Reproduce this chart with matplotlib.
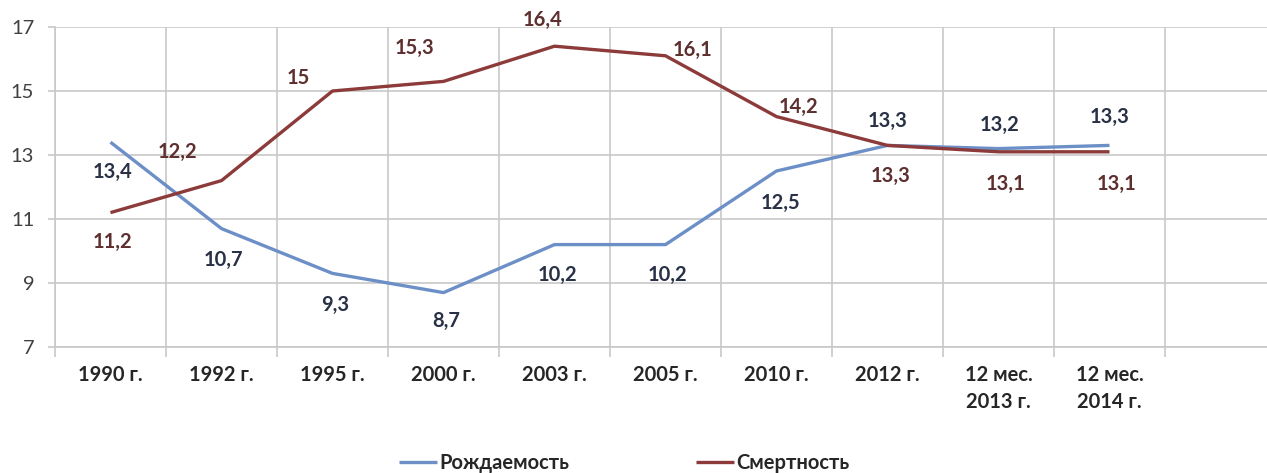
import numpy as np
import matplotlib
matplotlib.use("Agg")
import matplotlib.pyplot as plt
from matplotlib.ticker import FixedLocator

# Данные
kategorii = ['1990 г.', '1992 г.', '1995 г.', '2000 г.', '2003 г.', '2005 г.',
             '2010 г.', '2012 г.', '12 мес.\n2013 г.', '12 мес.\n2014 г.']
rozhdaemost = [13.4, 10.7, 9.3, 8.7, 10.2, 10.2, 12.5, 13.3, 13.2, 13.3]
smertnost = [11.2, 12.2, 15.0, 15.3, 16.4, 16.1, 14.2, 13.3, 13.1, 13.1]

# Сдвиги подписей (в пикселях) относительно точек
sdvig_rozhd = [(2, -30), (2, -31), (3, -32), (3, -28), (3, -30), (2, -30), (4, -32), (0, 24), (1, 24), (0, 28)]
sdvig_smert = [(2, -29), (-44, 29), (-34, 13), (-29, 33), (-12, 26), (27, 6), (22, 10), (3, -31), (7, -32), (7, -32)]

COR_AZUL = '#6d8fc7'
COR_VERM = '#8c3a3a'
TXT_AZUL = '#283145'
TXT_VERM = '#5e2f2f'
GRADE = '#c8c8c8'

plt.rcParams['font.family'] = ['Lato', 'DejaVu Sans']

fig = plt.figure(figsize=(12.67, 4.73), dpi=100)
ax = fig.add_axes([55 / 1267, 126 / 473, 1221 / 1267, 320 / 473])

x = np.arange(len(kategorii))
ax.plot(x, rozhdaemost, color=COR_AZUL, linewidth=2.4, label='Рождаемость', solid_capstyle='butt')
ax.plot(x, smertnost, color=COR_VERM, linewidth=2.4, label='Смертность', solid_capstyle='butt')

# Подписи значений
def fmt(v):
    return f'{v:g}'.replace('.', ',')

for xi, v, (dx, dy) in zip(x, rozhdaemost, sdvig_rozhd):
    ax.annotate(fmt(v), (xi, v), xytext=(dx * 0.72, dy * 0.72), textcoords='offset points',
                ha='center', va='center', fontsize=14.5, fontweight='bold', color=TXT_AZUL)
for xi, v, (dx, dy) in zip(x, smertnost, sdvig_smert):
    ax.annotate(fmt(v), (xi, v), xytext=(dx * 0.72, dy * 0.72), textcoords='offset points',
                ha='center', va='center', fontsize=14.5, fontweight='bold', color=TXT_VERM,
                annotation_clip=False)

# Оси
ax.set_xlim(-0.5, len(kategorii) + 0.5)
ax.set_ylim(7, 17)
ax.set_yticks(range(7, 18, 2))
ax.set_xticks(x)
ax.set_xticklabels(kategorii, fontsize=14.5, fontweight='bold', color='#262626', linespacing=1.45)
ax.xaxis.set_minor_locator(FixedLocator(np.arange(-0.5, len(kategorii) + 1, 1)))

ax.tick_params(axis='x', which='major', length=0, pad=13)
ax.tick_params(axis='x', which='minor', length=7, color=GRADE, width=1.2)
ax.tick_params(axis='y', length=5, color=GRADE, width=1.2, pad=10, labelsize=14.5, labelcolor='#404040')

ax.grid(axis='y', color=GRADE, linewidth=1.2)
ax.grid(axis='x', which='minor', color=GRADE, linewidth=1.2)
ax.set_axisbelow(True)

for lado in ['top', 'right']:
    ax.spines[lado].set_visible(False)
ax.spines['left'].set_color(GRADE)
ax.spines['bottom'].set_color(GRADE)
ax.spines['left'].set_linewidth(1.2)
ax.spines['bottom'].set_linewidth(1.2)

leg = fig.legend(loc='center', bbox_to_anchor=(624 / 1267, 10 / 473), ncol=2, frameon=False,
                 prop={'size': 14.5, 'weight': 'bold'}, handlelength=1.9, handletextpad=0.1,
                 columnspacing=6.3)
for t in leg.get_texts():
    t.set_color('#262626')

fig.savefig('out.png', dpi=100, facecolor='white')
